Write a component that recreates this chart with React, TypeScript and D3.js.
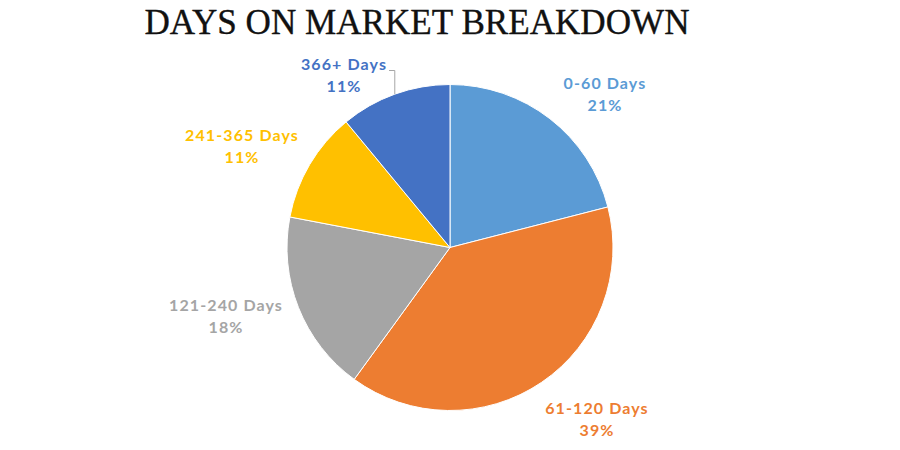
import { useEffect, useRef } from "react";
import * as d3 from "d3";

const categories = ["0-60 Days", "61-120 Days", "121-240 Days", "241-365 Days", "366+ Days"];
const shares = [21, 39, 18, 11, 11];
const colors = ["#5B9BD5", "#ED7D31", "#A5A5A5", "#FFC000", "#4472C4"];
// label spots: centre x, first-line baseline
const labelSpots: [number, number][] = [
  [605, 89],
  [597, 414],
  [226, 311],
  [242, 141],
  [344, 70],
];

export default function App() {
  const ref = useRef<SVGSVGElement | null>(null);

  useEffect(() => {
    if (!ref.current) return;
    const width = 900;
    const height = 450;
    const cx = 450;
    const cy = 247.5;
    const radius = 163;

    const svg = d3.select(ref.current);
    svg.selectAll("*").remove();
    svg.attr("width", width).attr("height", height);

    svg.append("rect").attr("width", width).attr("height", height).attr("fill", "#fff");

    svg.append("text")
      .attr("x", 417)
      .attr("y", 34)
      .attr("text-anchor", "middle")
      .attr("textLength", 545)
      .attr("lengthAdjust", "spacingAndGlyphs")
      .style("font-family", "'Liberation Serif', 'DejaVu Serif', serif")
      .style("font-size", "35px")
      .attr("fill", "#111")
      .attr("stroke", "#111")
      .attr("stroke-width", 0.35)
      .text("DAYS ON MARKET BREAKDOWN");

    const pie = d3.pie<number>().sort(null).value((d) => d);
    const arcs = pie(shares);
    const arc = d3.arc<d3.PieArcDatum<number>>().innerRadius(0).outerRadius(radius);

    const g = svg.append("g").attr("transform", `translate(${cx},${cy})`);
    g.selectAll("path")
      .data(arcs)
      .enter()
      .append("path")
      .attr("d", arc)
      .attr("fill", (_, i) => colors[i])
      .attr("stroke", "#fff")
      .attr("stroke-width", 1);

    const labels = svg.append("g")
      .style("font-family", "Lato, 'Noto Sans', sans-serif")
      .style("font-weight", "bold")
      .style("font-size", "16px")
      .style("letter-spacing", "1.1px")
      .attr("text-anchor", "middle");

    const firstLines: SVGTSpanElement[] = [];
    categories.forEach((c, i) => {
      const [x, y] = labelSpots[i];
      const t = labels.append("text").attr("fill", colors[i]);
      firstLines.push(t.append("tspan").attr("x", x).attr("y", y).text(c).node()!);
      t.append("tspan").attr("x", x).attr("y", y + 21.5).text(`${shares[i]}%`);
    });

    // leader line for the 366+ slice
    const last = arcs[4];
    const mid = (last.startAngle + last.endAngle) / 2;
    const ex = cx + Math.sin(mid) * radius;
    const ey = cy - Math.cos(mid) * radius;
    const lw = firstLines[4].getComputedTextLength();
    svg.append("path")
      .attr("d", `M${labelSpots[4][0] + lw / 2 + 2},${labelSpots[4][1] + 0.5}H${ex}V${ey}`)
      .attr("fill", "none")
      .attr("stroke", "#A6A6A6")
      .attr("stroke-width", 1);
  }, []);

  return <svg ref={ref} style={{ display: "block", position: "absolute", left: 0, top: 0 }} />;
}
